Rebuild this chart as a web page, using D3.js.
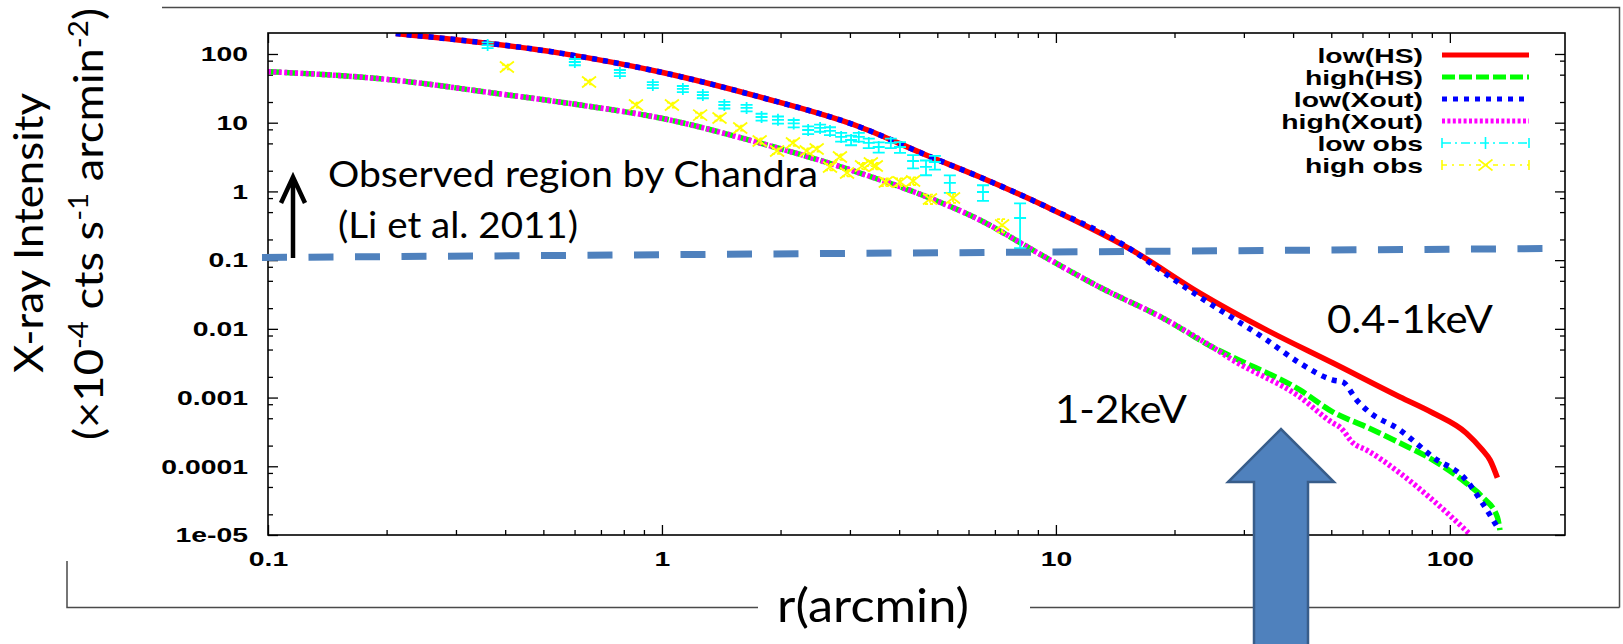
<!DOCTYPE html>
<html><head><meta charset="utf-8">
<script src="https://cdn.jsdelivr.net/npm/d3@7"></script>
<style>body{margin:0;background:#fff}svg{display:block}</style>
</head><body>
<svg id="c" width="1623" height="644"></svg>
<script>
// ---------------- data ----------------
const seriesNames = ["low(HS)","high(HS)","low(Xout)","high(Xout)","low obs","high obs"];
const xTickValues = [0.1,1,10,100];
const xTickLabels = ["0.1","1","10","100"];
const yTickValues = [1e-5,1e-4,1e-3,1e-2,0.1,1,10,100];
const yTickLabels = ["1e-05","0.0001","0.001","0.01","0.1","1","10","100"];

const lowHS_r = [0.211,0.551,0.99,1.77,3.18,4.68,6.41,9.49,15.6,23.2,34.3,50.5,74.7,90.6,110,121,126.5,132];
const lowHS_I = [198,103,54.7,23.7,8.67,3.39,1.62,0.593,0.140,0.0332,0.0096,0.00318,0.00102,0.000596,0.000305,0.000172,0.000123,6.8e-5];

const highHS_r = [0.1,0.207,0.372,0.620,0.99,1.77,3.18,4.71,6.41,9.0,12.9,19.1,25.0,28.1,41.6,50.5,61.5,74.7,90.6,110,121,132,134];
const highHS_I = [55.3,41.9,27.1,18.1,11.7,5.07,1.85,0.83,0.384,0.127,0.0406,0.0134,0.0054,0.00389,0.00129,0.000615,0.000372,0.000218,0.000123,5.7e-5,3.56e-5,1.82e-5,1.18e-5];

const lowXout_r = [0.211,0.551,0.99,1.77,3.18,4.68,6.41,9.49,15.6,18.4,23.2,34.3,41.6,50.5,53.5,58.0,61.5,74.7,90.6,110,121,132];
const lowXout_I = [198,103,54.7,23.7,8.67,3.39,1.62,0.593,0.140,0.0718,0.0290,0.00687,0.00318,0.0018,0.00168,0.00092,0.000658,0.000337,0.000136,6.3e-5,2.9e-5,1.3e-5];

const highXout_r = [0.1,0.207,0.372,0.620,0.99,1.77,3.18,4.71,6.41,9.0,12.9,19.1,25.0,28.1,41.6,50.5,52.6,56.8,61.5,74.7,90.6,112];
const highXout_I = [55.3,41.9,27.1,18.1,11.7,5.07,1.85,0.83,0.384,0.127,0.0406,0.0134,0.0054,0.00352,0.00102,0.000426,0.000372,0.000218,0.000172,7.96e-5,3.2e-5,1.05e-5];

const lowObs_r = [0.361,0.601,0.782,0.948,1.13,1.27,1.44,1.64,1.79,1.97,2.16,2.35,2.52,2.67,2.85,3.02,3.16,3.35,3.55,3.81,4.02,4.34,4.68,4.93,5.38,6.53,8.11];
const lowObs_I = [135,76.5,53,35.4,31.0,25.3,18.1,16.4,12.1,11.0,9.75,7.83,8.38,7.59,6.2,5.6,6.2,5.07,4.43,5.07,4.43,2.77,2.27,2.68,1.33,0.98,0.41];
const lowObs_err = [13,8,5.5,3.6,3.2,2.6,2.0,1.8,1.4,1.3,1.2,1.0,1.0,1.0,0.9,0.9,0.9,0.8,0.75,0.8,0.8,0.6,0.55,0.6,0.38,0.25,0.26];

const highObs_r = [0.404,0.653,0.859,1.06,1.25,1.40,1.58,1.77,1.96,2.15,2.33,2.47,2.67,2.83,2.95,3.22,3.39,3.49,3.70,4.02,4.34,4.79,5.48,7.30];
const highObs_I = [64.7,39.2,18.1,18.1,12.9,11.7,8.38,5.42,3.87,5.07,3.87,4.15,2.27,3.17,1.85,2.34,2.59,2.34,1.37,1.37,1.42,0.776,0.80,0.324];
const highObs_err = [5,3,1.5,1.5,1.1,1.0,0.7,0.5,0.35,0.45,0.35,0.35,0.25,0.3,0.2,0.25,0.25,0.25,0.18,0.18,0.18,0.12,0.12,0.07];

// ---------------- layout ----------------
const svg = d3.select("#c");
svg.append("rect").attr("width",1623).attr("height",644).attr("fill","#fff");
const P = {left:268, top:33, right:1565, bottom:535};
const x = d3.scaleLog().domain([0.1,196]).range([P.left,P.right]);
const y = d3.scaleLog().domain([1e-5,202]).range([P.bottom,P.top]);
const STRETCH = 1.35;
const tickFont = "bold 21px 'Liberation Sans', Arial, sans-serif";

function stretch(sel){
  sel.each(function(){
    const l = this.getComputedTextLength();
    this.setAttribute("textLength", l*STRETCH);
    this.setAttribute("lengthAdjust","spacingAndGlyphs");
  });
}

// outer slide frame lines
const frameCol = "#4a4a4a";
const outer = svg.append("g").attr("stroke",frameCol).attr("stroke-width",1.5).attr("fill","none");
outer.append("path").attr("d","M162,7.5H1619.5V607.5");
outer.append("path").attr("d","M67,561V607.5H758");
outer.append("path").attr("d","M1030,607.5H1619.5");

// minor tick values
const xMinor = [];
[0.1,1,10,100].forEach(d=>{for(let k=2;k<=9;k++){const v=d*k; if(v<196) xMinor.push(v);}});
const yMinor = [];
[1e-5,1e-4,1e-3,1e-2,0.1,1,10,100].forEach(d=>{[2,5,8].forEach(k=>{const v=d*k; if(v<195) yMinor.push(v);});});

function styleAxis(g){
  g.select(".domain").remove();
  g.selectAll("line").attr("stroke","#000").attr("stroke-width",1.3);
  g.selectAll("text").style("font",tickFont).attr("fill","#000");
}

// bottom axis
const gxb = svg.append("g").attr("transform",`translate(0,${P.bottom})`)
  .call(d3.axisBottom(x).tickValues(xTickValues).tickFormat((d,i)=>xTickLabels[i]).tickSizeInner(-10).tickSizeOuter(0).tickPadding(16))
  .call(styleAxis);
stretch(gxb.selectAll("text"));
svg.append("g").attr("transform",`translate(0,${P.bottom})`)
  .call(d3.axisBottom(x).tickValues(xMinor).tickFormat("").tickSizeInner(-5).tickSizeOuter(0)).call(styleAxis);
// top axis (mirror)
svg.append("g").attr("transform",`translate(0,${P.top})`)
  .call(d3.axisTop(x).tickValues(xTickValues).tickFormat("").tickSizeInner(-10).tickSizeOuter(0)).call(styleAxis);
svg.append("g").attr("transform",`translate(0,${P.top})`)
  .call(d3.axisTop(x).tickValues(xMinor).tickFormat("").tickSizeInner(-5).tickSizeOuter(0)).call(styleAxis);
// left axis
const gyl = svg.append("g").attr("transform",`translate(${P.left},0)`)
  .call(d3.axisLeft(y).tickValues(yTickValues).tickFormat((d,i)=>yTickLabels[i]).tickSizeInner(-10).tickSizeOuter(0).tickPadding(20))
  .call(styleAxis);
stretch(gyl.selectAll("text"));
svg.append("g").attr("transform",`translate(${P.left},0)`)
  .call(d3.axisLeft(y).tickValues(yMinor).tickFormat("").tickSizeInner(-5).tickSizeOuter(0)).call(styleAxis);
// right axis (mirror)
svg.append("g").attr("transform",`translate(${P.right},0)`)
  .call(d3.axisRight(y).tickValues(yTickValues).tickFormat("").tickSizeInner(-10).tickSizeOuter(0)).call(styleAxis);
svg.append("g").attr("transform",`translate(${P.right},0)`)
  .call(d3.axisRight(y).tickValues(yMinor).tickFormat("").tickSizeInner(-5).tickSizeOuter(0)).call(styleAxis);

// clip
svg.append("clipPath").attr("id","clip").append("rect")
  .attr("x",P.left).attr("y",P.top).attr("width",P.right-P.left).attr("height",P.bottom-P.top);

const line = d3.line().x(d=>x(d[0])).y(d=>y(d[1])).curve(d3.curveMonotoneX);
const zip = (a,b)=>a.map((v,i)=>[v,b[i]]);
const curves = [
  {r:lowHS_r, I:lowHS_I, color:"#ff0000", w:5.5, dash:null},
  {r:highHS_r, I:highHS_I, color:"#00ff00", w:5.5, dash:"13,4"},
  {r:lowXout_r, I:lowXout_I, color:"#0000ff", w:5.5, dash:"5,6"},
  {r:highXout_r, I:highXout_I, color:"#ff00ff", w:5.5, dash:"3,2.4"}
];
const plot = svg.append("g").attr("clip-path","url(#clip)");
curves.forEach(c=>{
  plot.append("path").attr("d",line(zip(c.r,c.I))).attr("fill","none")
    .attr("stroke",c.color).attr("stroke-width",c.w)
    .attr("stroke-dasharray",c.dash).attr("stroke-linejoin","round");
});

// low obs: errorbars with + points
const cyan = "#00ffff", yellow="#ffff00";
const gLow = plot.append("g").attr("stroke",cyan).attr("stroke-width",1.8).attr("fill","none");
lowObs_r.forEach((r,i)=>{
  const cx = x(r), cy = y(lowObs_I[i]);
  const y1 = y(lowObs_I[i]+lowObs_err[i]), y2 = y(Math.max(lowObs_I[i]-lowObs_err[i],1e-6));
  gLow.append("path").attr("d",`M${cx},${y1}V${y2}M${cx-6},${y1}H${cx+6}M${cx-6},${y2}H${cx+6}M${cx-6},${cy}H${cx+6}M${cx},${cy-6}V${cy+6}`);
});
// high obs: errorbars with x points
const gHigh = plot.append("g").attr("stroke",yellow).attr("stroke-width",1.8).attr("fill","none");
highObs_r.forEach((r,i)=>{
  const cx = x(r), cy = y(highObs_I[i]);
  const y1 = y(highObs_I[i]+highObs_err[i]), y2 = y(highObs_I[i]-highObs_err[i]);
  gHigh.append("path").attr("stroke-dasharray","3,2").attr("d",`M${cx},${y1}V${y2}M${cx-5},${y1}H${cx+5}M${cx-5},${y2}H${cx+5}`);
  gHigh.append("path").attr("d",`M${cx-7},${cy-5.5}L${cx+7},${cy+5.5}M${cx-7},${cy+5.5}L${cx+7},${cy-5.5}`);
});

// frame
svg.append("rect").attr("x",P.left).attr("y",P.top).attr("width",P.right-P.left).attr("height",P.bottom-P.top)
  .attr("fill","none").attr("stroke","#000").attr("stroke-width",1.6);

// legend
const lg = svg.append("g");
const LX0 = 1442, LX1 = 1529, LT = 1423;
seriesNames.forEach((name,i)=>{
  const ly = 55 + i*22;
  const t = lg.append("text").attr("x",LT).attr("y",ly).attr("dy","0.36em").attr("text-anchor","end")
    .style("font",tickFont).text(name);
  stretch(t);
  if(i<4){
    const c = curves[i];
    lg.append("line").attr("x1",LX0).attr("x2",LX1).attr("y1",ly).attr("y2",ly)
      .attr("stroke",c.color).attr("stroke-width",5).attr("stroke-dasharray",c.dash);
  } else if(i===4){
    const g = lg.append("g").attr("stroke",cyan).attr("stroke-width",1.6);
    g.append("line").attr("x1",LX0).attr("x2",LX1).attr("y1",ly).attr("y2",ly).attr("stroke-dasharray","9,4,2,4");
    g.append("path").attr("d",`M${LX0},${ly-5}V${ly+5}M${LX1},${ly-5}V${ly+5}M${(LX0+LX1)/2},${ly-6}V${ly+6}`);
  } else {
    const g = lg.append("g").attr("stroke",yellow).attr("stroke-width",1.6);
    g.append("line").attr("x1",LX0).attr("x2",LX1).attr("y1",ly).attr("y2",ly).attr("stroke-dasharray","5,5,2,5");
    const mx=(LX0+LX1)/2;
    g.append("path").attr("d",`M${LX0},${ly-5}V${ly+5}M${LX1},${ly-5}V${ly+5}M${mx-7},${ly-5.5}L${mx+7},${ly+5.5}M${mx-7},${ly+5.5}L${mx+7},${ly-5.5}`);
  }
});

// axis titles
const labFont = "Lato, 'Open Sans', sans-serif";
svg.append("text").attr("x",873).attr("y",622).attr("text-anchor","middle")
  .style("font-family",labFont).style("font-size","47px").attr("textLength",192).attr("lengthAdjust","spacingAndGlyphs")
  .text("r(arcmin)");
svg.append("text").attr("transform","translate(43,233) rotate(-90)").attr("text-anchor","middle")
  .style("font-family",labFont).style("font-size","40px").attr("textLength",280).attr("lengthAdjust","spacingAndGlyphs")
  .text("X-ray Intensity");
const t2 = svg.append("text").attr("transform","translate(103,224) rotate(-90)").attr("text-anchor","middle")
  .style("font-family",labFont).style("font-size","40px").attr("textLength",432).attr("lengthAdjust","spacingAndGlyphs");
t2.append("tspan").text("(×10");
t2.append("tspan").attr("dy",-15).style("font-size","26px").text("-4");
t2.append("tspan").attr("dy",15).text(" cts s");
t2.append("tspan").attr("dy",-15).style("font-size","26px").text("-1");
t2.append("tspan").attr("dy",15).text(" arcmin");
t2.append("tspan").attr("dy",-15).style("font-size","26px").text("-2");
t2.append("tspan").attr("dy",15).text(")");

// annotations
const blue2 = "#4f81bd";
svg.append("line").attr("x1",262).attr("y1",257.5).attr("x2",1550).attr("y2",248.5)
  .attr("stroke",blue2).attr("stroke-width",7).attr("stroke-dasharray","25,21.5");
svg.append("path").attr("d","M293,258V178M281,203L293,177L305,203")
  .attr("stroke","#000").attr("stroke-width",4.5).attr("fill","none");
svg.append("text").attr("x",328).attr("y",187).style("font-family",labFont).style("font-size","37px")
  .attr("textLength",490).attr("lengthAdjust","spacingAndGlyphs").text("Observed region by Chandra");
svg.append("text").attr("x",338).attr("y",238).style("font-family",labFont).style("font-size","37px")
  .attr("textLength",240).attr("lengthAdjust","spacingAndGlyphs").text("(Li et al. 2011)");
svg.append("text").attr("x",1327).attr("y",333).style("font-family",labFont).style("font-size","39px")
  .attr("textLength",166).attr("lengthAdjust","spacingAndGlyphs").text("0.4-1keV");
svg.append("text").attr("x",1055).attr("y",423).style("font-family",labFont).style("font-size","39px")
  .attr("textLength",132).attr("lengthAdjust","spacingAndGlyphs").text("1-2keV");
svg.append("path").attr("d","M1254,646V482H1228L1281,429L1334,482H1308V646Z")
  .attr("fill",blue2).attr("stroke","#385d8a").attr("stroke-width",2.5);
</script>
</body></html>
